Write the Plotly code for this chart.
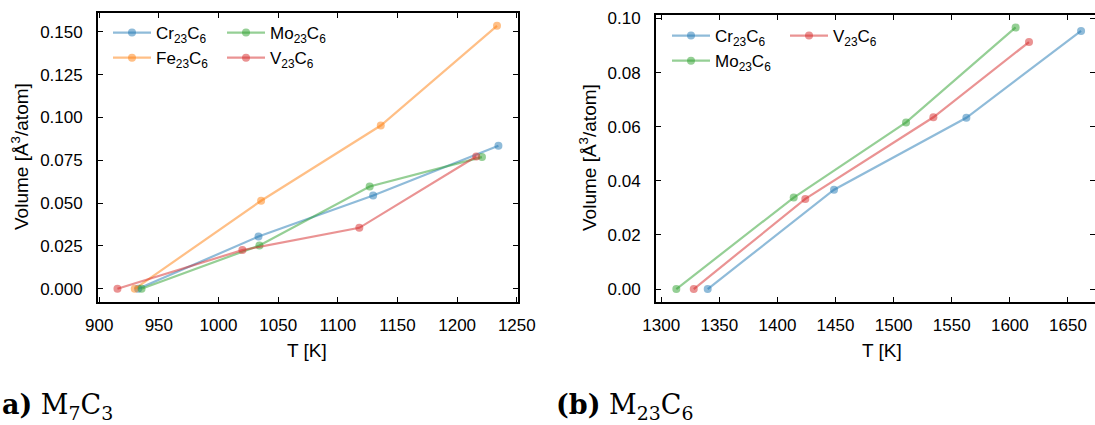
import plotly.graph_objects as go

# ---------------- data: (a) M7C3 ----------------
a_names = ["Cr<sub>23</sub>C<sub>6</sub>", "Fe<sub>23</sub>C<sub>6</sub>",
           "Mo<sub>23</sub>C<sub>6</sub>", "V<sub>23</sub>C<sub>6</sub>"]
a_T_cr = [932.6, 1033.5, 1129.6, 1234.6]
a_V_cr = [0.0, 0.0305, 0.0545, 0.0835]
a_T_fe = [929.8, 1035.7, 1136.0, 1233.4]
a_V_fe = [0.0, 0.0514, 0.0953, 0.1535]
a_T_mo = [935.5, 1034.3, 1126.7, 1220.8]
a_V_mo = [0.0, 0.0253, 0.0597, 0.0769]
a_T_v = [915.3, 1020.0, 1118.0, 1216.0]
a_V_v = [0.0, 0.0226, 0.0356, 0.0772]

# ---------------- data: (b) M23C6 ----------------
b_names = ["Cr<sub>23</sub>C<sub>6</sub>", "Mo<sub>23</sub>C<sub>6</sub>",
           "V<sub>23</sub>C<sub>6</sub>"]
b_T_cr = [1340.0, 1448.7, 1562.6, 1661.3]
b_V_cr = [0.0, 0.0367, 0.0633, 0.0954]
b_T_mo = [1313.0, 1414.0, 1510.7, 1605.0]
b_V_mo = [0.0, 0.0338, 0.0616, 0.0967]
b_T_v = [1328.0, 1424.0, 1534.2, 1616.5]
b_V_v = [0.0, 0.0333, 0.0635, 0.0913]

a_xticks = [900, 950, 1000, 1050, 1100, 1150, 1200, 1250]
a_yticks = [0.0, 0.025, 0.05, 0.075, 0.1, 0.125, 0.15]
b_xticks = [1300, 1350, 1400, 1450, 1500, 1550, 1600, 1650]
b_yticks = [0.0, 0.02, 0.04, 0.06, 0.08, 0.10]

W, H = 1095, 425
ALPHA = 0.5
COL = {"blue": (31, 119, 180), "orange": (255, 127, 14),
       "green": (44, 160, 44), "red": (214, 39, 40)}


def rgba(c, a=ALPHA):
    r, g, b = COL[c]
    return f"rgba({r},{g},{b},{a})"


def px(v):
    return v / W


def py(v):
    return 1 - v / H


fig = go.Figure()


def add(xs, ys, name, color, xa, ya, legend, group):
    fig.add_trace(go.Scatter(
        x=xs, y=ys, name=name, mode="lines+markers",
        line=dict(color=rgba(color), width=2.2),
        marker=dict(color=rgba(color), size=8),
        xaxis=xa, yaxis=ya, legend=legend, legendgroup=group))


# panel (a): legend column 1 = Cr, Fe ; column 2 = Mo, V
add(a_T_cr, a_V_cr, a_names[0], "blue", "x", "y", "legend", "a_cr")
add(a_T_fe, a_V_fe, a_names[1], "orange", "x", "y", "legend", "a_fe")
add(a_T_mo, a_V_mo, a_names[2], "green", "x", "y", "legend3", "a_mo")
add(a_T_v, a_V_v, a_names[3], "red", "x", "y", "legend3", "a_v")

# panel (b): legend column 1 = Cr, Mo ; column 2 = V
add(b_T_cr, b_V_cr, b_names[0], "blue", "x2", "y2", "legend2", "b_cr")
add(b_T_mo, b_V_mo, b_names[1], "green", "x2", "y2", "legend2", "b_mo")
add(b_T_v, b_V_v, b_names[2], "red", "x2", "y2", "legend4", "b_v")

# empty helper trace so the right-side tick-only axis of panel (b) is drawn
fig.add_trace(go.Scatter(x=[], y=[], xaxis="x2", yaxis="y3",
                         showlegend=False, hoverinfo="skip"))

SANS = "Liberation Sans, Arial, sans-serif"
tickfont = dict(family=SANS, size=17, color="black")
common = dict(showgrid=False, zeroline=False, ticks="inside", ticklen=5,
              tickwidth=1.2, tickcolor="black", linecolor="black",
              linewidth=1.8, showline=True, tickfont=tickfont,
              automargin=False)

legfont = dict(family=SANS, size=17, color="black")


def leg(x, y):
    return dict(orientation="v", x=px(x), y=py(y), xanchor="left",
                yanchor="top", bgcolor="rgba(0,0,0,0)", font=legfont,
                tracegroupgap=0, borderwidth=0, itemwidth=38)


fig.update_layout(
    width=W, height=H, autosize=False,
    margin=dict(l=0, r=0, t=0, b=0, autoexpand=False),
    paper_bgcolor="white", plot_bgcolor="white",
    xaxis=dict(domain=[px(98), px(518)], range=[899, 1251], anchor="y",
               tickvals=a_xticks, mirror="ticks", ticklabelstandoff=7, **common),
    yaxis=dict(domain=[py(302), py(13)], range=[-0.0077, 0.161], anchor="x",
               tickvals=a_yticks, tickformat=".3f", mirror="ticks",
               ticklabelstandoff=10, **common),
    xaxis2=dict(domain=[px(656), 1.0], range=[1295.5, 1673.3], anchor="y2",
                tickvals=b_xticks, mirror="ticks", ticklabelstandoff=7, **common),
    yaxis2=dict(domain=[py(302), py(15)], range=[-0.0048, 0.1013], anchor="x2",
                tickvals=b_yticks, tickformat=".2f", mirror=False,
                ticklabelstandoff=10, **common),
    yaxis3=dict(overlaying="y2", side="right", anchor="x2",
                range=[-0.0048, 0.1013], tickvals=b_yticks,
                showticklabels=False, showgrid=False, zeroline=False,
                showline=False, ticks="inside", ticklen=5, tickwidth=1.2,
                tickcolor="black", automargin=False),
    legend=leg(108, 15),
    legend3=leg(222, 15),
    legend2=leg(667, 18),
    legend4=leg(785, 18),
    showlegend=True,
)

labfont = dict(family=SANS, size=19, color="black")
capfont = dict(family="DejaVu Serif, Liberation Serif, serif", size=27, color="black")
ann = [
    dict(text="T [K]", x=px(307), y=py(350), font=labfont),
    dict(text="T [K]", x=px(882), y=py(350), font=labfont),
    dict(text="Volume [Å<sup>3</sup>/atom]", x=px(20), y=py(157), font=labfont,
         textangle=-90),
    dict(text="Volume [Å<sup>3</sup>/atom]", x=px(588), y=py(158), font=labfont,
         textangle=-90),
    dict(text="<b>a)</b> M<sub>7</sub>C<sub>3</sub>", x=0, y=py(406),
         xanchor="left", font=capfont),
    dict(text="<b>(b)</b> M<sub>23</sub>C<sub>6</sub>", x=px(554), y=py(406),
         xanchor="left", font=capfont),
]
for a in ann:
    a.setdefault("xanchor", "center")
    fig.add_annotation(xref="paper", yref="paper", showarrow=False,
                       yanchor="middle", **a)

fig.write_html("out.html", config={"displayModeBar": False},
               post_script="document.body.style.margin='0';")
